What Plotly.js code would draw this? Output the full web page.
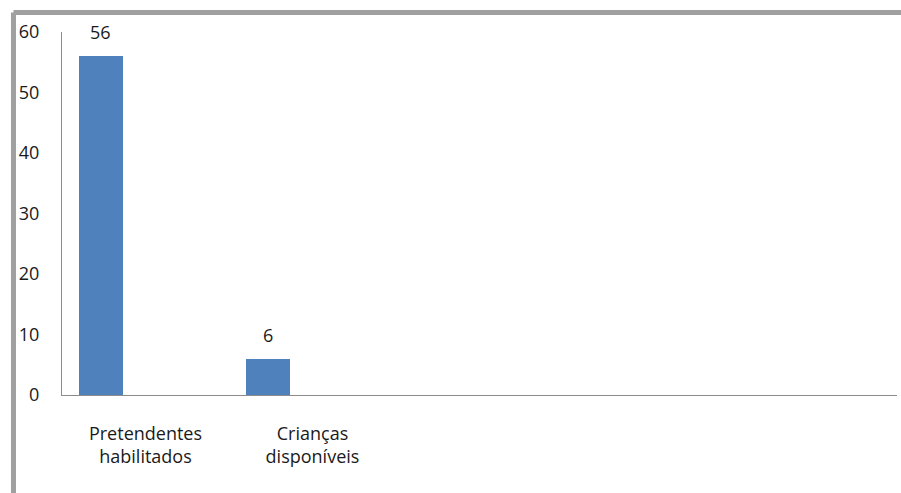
<!DOCTYPE html>
<html>
<head>
<meta charset="utf-8">
<script src="https://cdn.plot.ly/plotly-3.0.1.min.js"></script>
<style>
html,body{margin:0;padding:0;background:#fff;}
#chart{width:901px;height:493px;}
</style>
</head>
<body>
<div id="chart"></div>
<script>
// Data
const categories = ["Pretendentes<br>habilitados", "Crianças<br>disponíveis"];
const values = [56, 6];
const yTicks = [0, 10, 20, 30, 40, 50, 60];
const nSlots = 5; // category slots along the axis

// Style
const FONT = "Open Sans, DejaVu Sans, sans-serif";
const FS = 18;
const barWidth = 0.263;
const barOffset = -0.398;
const xIdx = categories.map((_, i) => i);

const trace = {
  type: "bar",
  x: xIdx,
  y: values,
  width: barWidth,
  offset: barOffset,
  marker: {color: "#4f81bd", line: {width: 0}},
  hoverinfo: "none",
  showlegend: false
};

const annotations = values.map((v, i) => ({
  x: i + barOffset + barWidth / 2,
  y: v,
  xref: "x", yref: "y",
  text: String(v),
  showarrow: false,
  yanchor: "bottom",
  yshift: 10,
  font: {family: FONT, size: FS, color: "#1a1a1a"}
}));

const borderColor = "#a0a0a0";
const shapes = [
  {type: "line", xref: "paper", yref: "paper", x0: -0.0581, x1: 1.1, y0: 1.0537, y1: 1.0537,
   line: {color: borderColor, width: 5}},
  {type: "line", xref: "paper", yref: "paper", x0: -0.0581, x1: -0.0581, y0: 1.0537, y1: -0.4,
   line: {color: borderColor, width: 5}}
];

const layout = {
  width: 901, height: 493,
  margin: {l: 62, r: 4, t: 32, b: 98},
  paper_bgcolor: "#fff",
  plot_bgcolor: "#fff",
  font: {family: FONT, size: FS, color: "#1a1a1a"},
  xaxis: {
    range: [-0.5, nSlots - 0.5],
    tickvals: xIdx,
    ticktext: categories,
    showgrid: false, zeroline: false,
    showline: true, linecolor: "#8c8c8c", linewidth: 1,
    ticks: "", ticklabelstandoff: 22,
    tickfont: {family: FONT, size: FS, color: "#1a1a1a"},
    fixedrange: true
  },
  yaxis: {
    range: [0, 60],
    tickvals: yTicks,
    ticktext: yTicks.map(String),
    showgrid: false, zeroline: false,
    showline: true, linecolor: "#8c8c8c", linewidth: 1,
    ticks: "", ticklabelstandoff: 18,
    tickfont: {family: FONT, size: FS, color: "#1a1a1a"},
    fixedrange: true
  },
  bargap: 0,
  annotations: annotations,
  shapes: shapes,
  showlegend: false
};

Plotly.newPlot("chart", [trace], layout, {displayModeBar: false, staticPlot: true});
</script>
</body>
</html>
